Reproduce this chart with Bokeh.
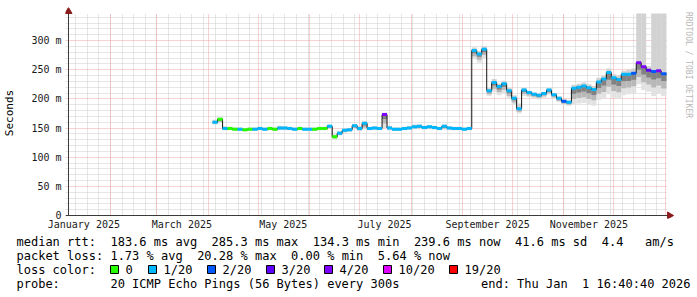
import re
import numpy as np
import pandas as pd
from bokeh.plotting import figure
from bokeh.layouts import column, row
from bokeh.models import Range1d, FixedTicker, DatetimeTickFormatter, Grid
from bokeh.core.properties import value
from bokeh.embed import file_html
from bokeh.resources import INLINE

# ---------------- data ----------------
sample_start = "2025-04-03 12:00"      # first consolidated sample
sample_step = "3D"                      # spacing of the samples
data_end = "2026-01-01 16:40:40"

median_ms = [
    160, 165, 149, 149, 148, 148, 147, 148, 148, 149,
    148, 149, 148, 150, 150, 149, 148, 149, 148, 148,
    148, 149, 149, 153, 135, 141, 146, 147, 154, 149,
    158, 149, 150, 149, 173, 150, 148, 148, 149, 150,
    152, 153, 151, 152, 151, 149, 153, 150, 149, 149,
    148, 149, 283, 277, 285, 214, 228, 221, 226, 214,
    201, 183, 215, 211, 208, 206, 209, 215, 207, 201,
    196, 194, 218, 220, 222, 219, 216, 229, 234, 245,
    236, 233, 242, 242, 244, 262, 255, 249, 247, 248,
    243]

ping_min_ms = [
    156, 158, 146, 146, 145, 145, 144, 145, 145, 146,
    145, 146, 145, 146, 146, 146, 145, 146, 145, 145,
    145, 146, 146, 148, 131, 137, 142, 143, 148, 145,
    147, 146, 146, 146, 150, 146, 145, 145, 146, 147,
    148, 148, 147, 148, 147, 146, 147, 146, 146, 146,
    145, 146, 268, 262, 270, 205, 212, 206, 210, 200,
    190, 175, 205, 203, 201, 199, 202, 207, 200, 194,
    189, 188, 190, 192, 193, 190, 188, 198, 200, 208,
    202, 200, 206, 208, 210, 225, 215, 212, 205, 210,
    205]

ping_max_ms = [
    164, 168, 153, 152, 151, 151, 150, 151, 151, 152,
    151, 152, 151, 154, 153, 152, 151, 152, 151, 151,
    151, 152, 152, 156, 139, 145, 149, 150, 157, 153,
    161, 152, 153, 152, 176, 154, 151, 151, 152, 154,
    156, 156, 154, 155, 154, 152, 156, 153, 152, 152,
    151, 152, 288, 282, 290, 218, 234, 226, 231, 219,
    206, 192, 219, 214, 211, 209, 212, 218, 210, 204,
    199, 197, 224, 226, 228, 225, 222, 236, 240, 252,
    242, 240, 248, 250, 252, 350, 350, 256, 350, 350,
    350]

loss_count = [   # lost pings out of 20
    1, 0, 1, 0, 0, 1, 0, 0, 1, 1,
    1, 0, 0, 1, 1, 1, 1, 0, 1, 1,
    0, 0, 0, 1, 0, 1, 1, 1, 1, 1,
    1, 1, 1, 1, 4, 1, 1, 1, 1, 1,
    1, 1, 1, 1, 1, 1, 1, 1, 1, 1,
    1, 1, 1, 1, 1, 1, 1, 1, 1, 1,
    1, 1, 1, 1, 1, 1, 1, 1, 1, 1,
    2, 1, 1, 1, 1, 1, 1, 1, 1, 1,
    1, 1, 1, 1, 2, 5, 4, 3, 2, 4,
    2]

loss_levels = [0, 1, 2, 3, 4, 10, 19]
loss_labels = ["0", "1/20", "2/20", "3/20", "4/20", "10/20", "19/20"]
loss_colors = ["#26ff00", "#00b8ff", "#0059ff", "#5e00ff", "#7e00ff", "#dd00ff", "#ff0000"]

y_tick_values = [0, 50, 100, 150, 200, 250, 300]
y_tick_labels = ["0", "50 m", "100 m", "150 m", "200 m", "250 m", "300 m"]
x_label_dates = ["2025-01-16", "2025-03-16", "2025-05-16", "2025-07-16", "2025-09-16", "2025-11-16"]

legend_line1 = "median rtt:  183.6 ms avg  285.3 ms max  134.3 ms min  239.6 ms now  41.6 ms sd  4.4   am/s"
legend_line2 = "packet loss: 1.73 % avg  20.28 % max  0.00 % min  5.64 % now"
legend_line3 = "loss color:"
legend_line4 = "probe:       20 ICMP Echo Pings (56 Bytes) every 300s"
legend_end = "end: Thu Jan  1 16:40:40 2026"
watermark = "RRDTOOL / TOBI OETIKER"

# ---------------- helpers ----------------
def ms(d):
    return pd.Timestamp(d).value / 1e6

MONO = "DejaVu Sans Mono"
CHAR_W = 12 * 0.6021          # advance of DejaVu Sans Mono at 12px
AXIS_COL = "#3a3a3a"
ARROW_COL = "#8a1c1c"

# axis geometry: x0 .. x1 spans the 600 px plotting area, 0 .. y_top spans 202 px
x0 = ms("2025-01-06 18:00")
x1 = ms("2026-01-02 08:00")
px_x = (x1 - x0) / 600.0
y_top = 346.3
px_y = y_top / 202.0

t = pd.date_range(sample_start, periods=len(median_ms), freq=sample_step)
t_right = list(t[1:]) + [pd.Timestamp(data_end)]
med = np.array(median_ms, float)
lo = np.array(ping_min_ms, float)
hi = np.array(ping_max_ms, float)

def loss_color(c):
    col = loss_colors[0]
    for lvl, cc in zip(loss_levels, loss_colors):
        if c >= lvl:
            col = cc
    return col

seg_colors = [loss_color(c) for c in loss_count]

# ---------------- main chart ----------------
p = figure(width=680, height=232, x_axis_type="datetime",
           x_range=Range1d(x0 - 3 * px_x, x1 + 7 * px_x),
           y_range=Range1d(-3 * px_y, y_top + 6 * px_y),
           output_backend="svg", toolbar_location=None,
           min_border_left=64, min_border_right=6, min_border_top=7, min_border_bottom=14)
p.outline_line_color = None
p.background_fill_color = "white"
p.border_fill_color = "white"
p.xgrid.visible = False
p.ygrid.visible = False

HAS_CB = "cross_bounds" in Grid.properties()

def make_grid(dim, ticks, color, cross):
    kw = dict(dimension=dim, ticker=FixedTicker(ticks=ticks, minor_ticks=[]),
              grid_line_color=color, grid_line_dash="1 1")
    if HAS_CB:
        kw["cross_bounds"] = cross
    return Grid(**kw)

week_ticks = [ms(d) for d in pd.date_range("2025-01-11", "2025-12-31", freq="7D")]
month_ticks = [ms(d) for d in pd.date_range("2025-02-01", "2026-01-01", freq="MS")]
minor_y = [v for v in range(10, 346, 10) if v % 50]
p.add_layout(make_grid(0, week_ticks, "#cdcdcd", (0, y_top)))
p.add_layout(make_grid(1, minor_y, "#cdcdcd", (x0 - 3 * px_x, x1)))
p.add_layout(make_grid(0, month_ticks, "#f0a4a4", (0, y_top)))
p.add_layout(make_grid(1, y_tick_values[1:], "#f0a4a4", (x0 - 3 * px_x, x1)))

# smoke below the median (graded) and above it (light)
for frac, col in [(1.0, "#e2e2e2"), (0.66, "#b8b8b8"), (0.33, "#828282")]:
    p.quad(left=t, right=t_right, bottom=med - frac * (med - lo), top=med,
           fill_color=col, line_color=None)
p.quad(left=t, right=t_right, bottom=med, top=np.minimum(hi, y_top),
       fill_color="#d2d2d2", line_color=None)

# median: thin dark step line + loss-coloured thick pieces
p.step(x=list(t) + [pd.Timestamp(data_end)], y=list(med) + [med[-1]], mode="after",
       line_color="#141414", line_width=1)
p.segment(x0=t, y0=med, x1=t_right, y1=med, line_color=seg_colors, line_width=3)

# rrdtool-style axis lines with arrow heads
p.segment(x0=[x0 - 3 * px_x, x0], y0=[0, 0], x1=[x1, x0], y1=[0, y_top],
          line_color=AXIS_COL, line_width=1)
p.scatter(x=[x0, x1 + 2 * px_x], y=[y_top + 2 * px_y, 0], marker="triangle", size=7,
          angle=[0, -np.pi / 2], fill_color=ARROW_COL, line_color=ARROW_COL)

# axes (labels only; lines drawn above)
xa = p.xaxis[0]
xa.ticker = FixedTicker(ticks=[ms(d) for d in x_label_dates], minor_ticks=[])
xa.formatter = DatetimeTickFormatter(days="%B %Y", months="%B %Y", years="%B %Y")
xa.major_label_standoff = 0
ya = p.yaxis[0]
ya.ticker = FixedTicker(ticks=y_tick_values, minor_ticks=[])
ya.major_label_overrides = dict(zip(y_tick_values, y_tick_labels))
ya.major_label_standoff = 4
ya.axis_label = "Seconds"
ya.axis_label_standoff = 12
ya.axis_label_text_font = MONO
ya.axis_label_text_font_size = "11px"
ya.axis_label_text_font_style = "normal"
ya.axis_label_text_color = "#000000"
for ax in (xa, ya):
    ax.axis_line_color = None
    ax.major_tick_line_color = None
    ax.minor_tick_line_color = None
    ax.major_tick_out = 0
    ax.major_tick_in = 0
    ax.major_label_text_font = MONO
    ax.major_label_text_font_size = "10px"
    ax.major_label_text_color = "#1a1a1a"

# watermark strip on the right
wm = figure(width=17, height=232, x_range=Range1d(0, 17), y_range=Range1d(0, 232),
            x_axis_location=None, y_axis_location=None, output_backend="svg",
            toolbar_location=None, min_border=0)
wm.outline_line_color = None
wm.grid.visible = False
wm.text(x=[8], y=[227], text=[watermark], angle=-np.pi / 2, text_align="left",
        text_baseline="middle", text_font=value(MONO), text_font_size="8px", text_color="#b8b8b8")

# ---------------- legend block ----------------
lg = figure(width=697, height=65, x_range=Range1d(0, 697), y_range=Range1d(65, 0),
            x_axis_location=None, y_axis_location=None, output_backend="svg",
            toolbar_location=None, min_border=0)
lg.outline_line_color = None
lg.grid.visible = False

CHUNK = r"\S+(?: \S+)*"
tx, ty, tt = [], [], []
for line, yy in [(legend_line1, 9), (legend_line2, 23), (legend_line3, 37), (legend_line4, 51)]:
    # runs of two or more spaces are kept by placing each chunk at its monospace column
    for m in re.finditer(CHUNK, line):
        tx.append(16 + m.start() * CHAR_W)
        ty.append(yy)
        tt.append(m.group(0))
# right-aligned end stamp, chunked the same way
end_x0 = 690 - len(legend_end) * CHAR_W
for m in re.finditer(CHUNK, legend_end):
    tx.append(end_x0 + m.start() * CHAR_W)
    ty.append(51)
    tt.append(m.group(0))
lg.text(x=tx, y=ty, text=tt, text_align="left", text_baseline="middle",
        text_font=value(MONO), text_font_size="12px", text_color="#000000")

label_x = [125, 163, 222, 281, 339, 398, 464]
lg.rect(x=[lx - 11 for lx in label_x], y=[37] * len(label_x), width=8, height=8,
        fill_color=loss_colors, line_color="#000000", line_width=1)
lg.text(x=label_x, y=[37] * len(label_x), text=loss_labels, text_align="left",
        text_baseline="middle", text_font=value(MONO), text_font_size="12px", text_color="#000000")

layout = column(row(p, wm, spacing=0), lg, spacing=0)
open("out.html", "w").write(file_html(layout, INLINE))
